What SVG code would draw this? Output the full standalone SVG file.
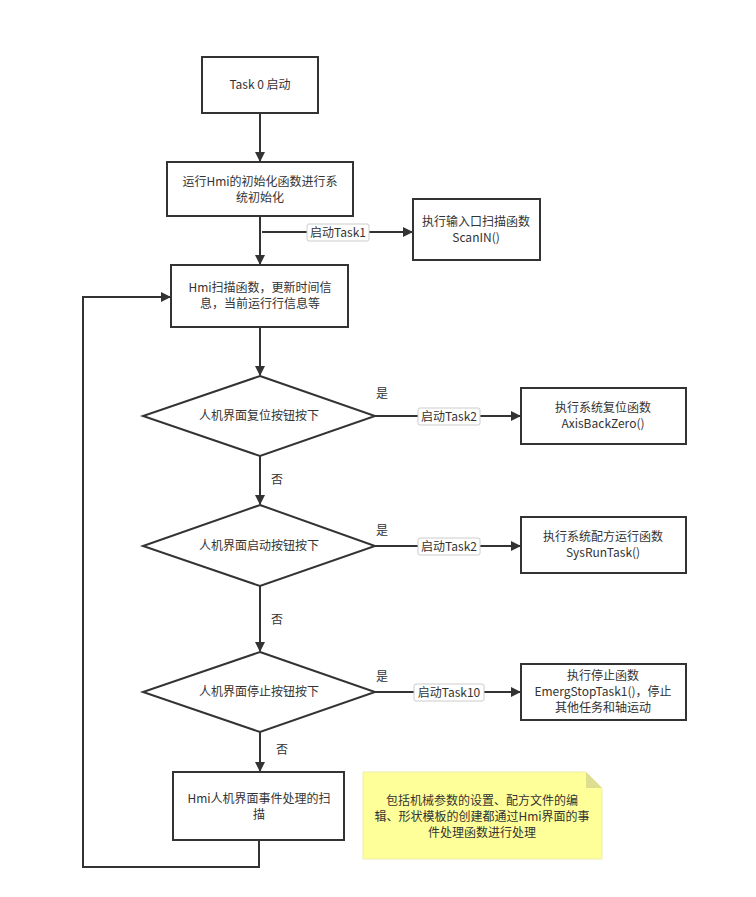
<svg xmlns="http://www.w3.org/2000/svg" width="756" height="897" viewBox="0 0 756 897">
<defs>
<marker id="arr" markerWidth="10" markerHeight="10" refX="9" refY="5" orient="auto" markerUnits="userSpaceOnUse">
<path d="M0,0 L10,5 L0,10 Z" fill="#333"/>
</marker>
<style>
.box{fill:#fff;stroke:#333;stroke-width:2}
.line{fill:none;stroke:#333;stroke-width:2}
.t{font-family:"Noto Sans CJK SC","Noto Sans",sans-serif;font-size:12px;fill:#333;text-anchor:middle}
.lbl{fill:#fff;stroke:#ccc;stroke-width:1}
.note{fill:#ffff99;stroke:none}
</style>
</defs>
<rect width="756" height="897" fill="#fff"/>
<g id="connectors">
<path class="line" d="M260,113 V161" marker-end="url(#arr)"/>
<path class="line" d="M260,216 V264" marker-end="url(#arr)"/>
<path class="line" d="M262,232 H412" marker-end="url(#arr)"/>
<rect class="lbl" x="307" y="224" width="62" height="17" rx="2"/>
<text class="t" x="338" y="237">启动Task1</text>
<path class="line" d="M260,327 V375" marker-end="url(#arr)"/>
<path class="line" d="M375,416 H520" marker-end="url(#arr)"/>
<rect class="lbl" x="418" y="408" width="62" height="17" rx="2"/>
<text class="t" x="449" y="421">启动Task2</text>
<text class="t" x="382" y="398">是</text>
<path class="line" d="M260,456 V504" marker-end="url(#arr)"/>
<text class="t" x="277" y="484">否</text>
<path class="line" d="M375,546 H520" marker-end="url(#arr)"/>
<rect class="lbl" x="418" y="538" width="62" height="17" rx="2"/>
<text class="t" x="449" y="551">启动Task2</text>
<text class="t" x="382" y="535">是</text>
<path class="line" d="M260,586 V651" marker-end="url(#arr)"/>
<text class="t" x="277" y="624">否</text>
<path class="line" d="M375,692 H520" marker-end="url(#arr)"/>
<rect class="lbl" x="414" y="684" width="70" height="17" rx="2"/>
<text class="t" x="449" y="697">启动Task10</text>
<text class="t" x="382" y="681">是</text>
<path class="line" d="M260,732 V771" marker-end="url(#arr)"/>
<text class="t" x="282" y="754">否</text>
<path class="line" d="M259,840 V867 H83 V297 H170" marker-end="url(#arr)"/>
</g>
<g id="task0">
<rect class="box" x="202" y="57" width="116" height="56"/>
<text class="t" x="260" y="89">Task 0 启动</text>
</g>
<g id="init">
<rect class="box" x="167" y="162" width="186" height="54"/>
<text class="t" x="260" y="186">运行Hmi的初始化函数进行系</text>
<text class="t" x="260" y="202">统初始化</text>
</g>
<g id="scanin">
<rect class="box" x="413" y="199" width="127" height="61"/>
<text class="t" x="476" y="226">执行输入口扫描函数</text>
<text class="t" x="476" y="242">ScanIN()</text>
</g>
<g id="hmiscan">
<rect class="box" x="171" y="265" width="177" height="62"/>
<text class="t" x="260" y="292">Hmi扫描函数，更新时间信</text>
<text class="t" x="260" y="308">息，当前运行行信息等</text>
</g>
<g id="d1">
<path class="box" d="M260,376 L375,416 L260,456 L143,416 Z"/>
<text class="t" x="259" y="420">人机界面复位按钮按下</text>
</g>
<g id="reset">
<rect class="box" x="521" y="388" width="165" height="56"/>
<text class="t" x="603" y="412">执行系统复位函数</text>
<text class="t" x="603" y="428">AxisBackZero()</text>
</g>
<g id="d2">
<path class="box" d="M260,505 L375,546 L260,586 L143,546 Z"/>
<text class="t" x="259" y="550">人机界面启动按钮按下</text>
</g>
<g id="run">
<rect class="box" x="521" y="517" width="165" height="56"/>
<text class="t" x="603" y="541">执行系统配方运行函数</text>
<text class="t" x="603" y="557">SysRunTask()</text>
</g>
<g id="d3">
<path class="box" d="M260,652 L375,692 L260,732 L143,692 Z"/>
<text class="t" x="259" y="696">人机界面停止按钮按下</text>
</g>
<g id="stop">
<rect class="box" x="521" y="664" width="165" height="56"/>
<text class="t" x="603" y="680">执行停止函数</text>
<text class="t" x="603" y="696">EmergStopTask1()，停止</text>
<text class="t" x="603" y="712">其他任务和轴运动</text>
</g>
<g id="event">
<rect class="box" x="173" y="772" width="171" height="68"/>
<text class="t" x="259" y="803">Hmi人机界面事件处理的扫</text>
<text class="t" x="259" y="819">描</text>
</g>
<g id="note">
<path d="M363,772 H586 L602,788 V859 H363 Z" fill="#ffff99" stroke="#eeeeaa" stroke-width="1"/>
<path d="M586,772 V788 H602 Z" fill="#dede90"/>
<text class="t" x="482" y="805">包括机械参数的设置、配方文件的编</text>
<text class="t" x="482" y="821">辑、形状模板的创建都通过Hmi界面的事</text>
<text class="t" x="482" y="837">件处理函数进行处理</text>
</g>
</svg>
